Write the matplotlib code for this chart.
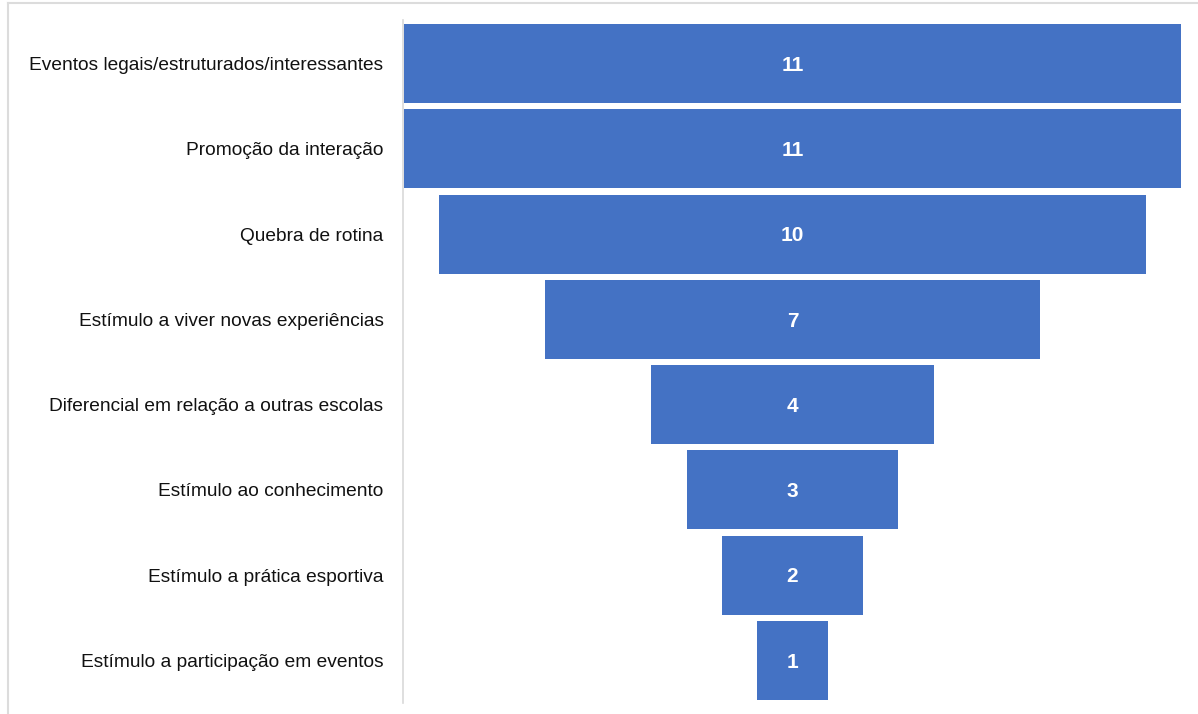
import matplotlib.pyplot as plt
from matplotlib.lines import Line2D

# funnel data
categories = [
    'Eventos legais/estruturados/interessantes',
    'Promoção da interação',
    'Quebra de rotina',
    'Estímulo a viver novas experiências',
    'Diferencial em relação a outras escolas',
    'Estímulo ao conhecimento',
    'Estímulo a prática esportiva',
    'Estímulo a participação em eventos',
]
counts = [11, 11, 10, 7, 4, 3, 2, 1]

plt.rcParams['font.family'] = ['Liberation Sans', 'DejaVu Sans']

W, H = 1198, 714
fig = plt.figure(figsize=(W / 100, H / 100), dpi=100)

# axes placed in pixel terms
left, right, top, bottom = 403, 1190, 20, 703
ax = fig.add_axes([left / W, 1 - bottom / H, (right - left) / W, (bottom - top) / H])

ypos = list(range(len(counts)))
lefts = [-c / 2 for c in counts]
ax.barh(ypos, counts, left=lefts, height=0.925, color='#4472C4', edgecolor='none')

for y, c in zip(ypos, counts):
    ax.text(0, y + 0.02, str(c), ha='center', va='center', color='white',
            fontsize=15, fontweight='bold')

ax.set_xlim(-5.514, 5.5 + 9 / 70.64)
ax.set_ylim(7.498, -0.51)
ax.set_yticks(ypos)
ax.set_yticklabels(categories, fontsize=13.8, color='#111111')
ax.tick_params(axis='y', length=0, pad=14)
ax.set_xticks([])
for s in ['top', 'right', 'bottom']:
    ax.spines[s].set_visible(False)
ax.spines['left'].set_color('#d9d9d9')
ax.spines['left'].set_linewidth(1.2)

# screenshot frame lines
fig.add_artist(Line2D([8 / W, 1], [1 - 3 / H, 1 - 3 / H], color='#dcdcdc', lw=1.5))
fig.add_artist(Line2D([8 / W, 8 / W], [0, 1 - 3 / H], color='#dcdcdc', lw=1.5))

fig.savefig('out.png', dpi=100, facecolor='white')
